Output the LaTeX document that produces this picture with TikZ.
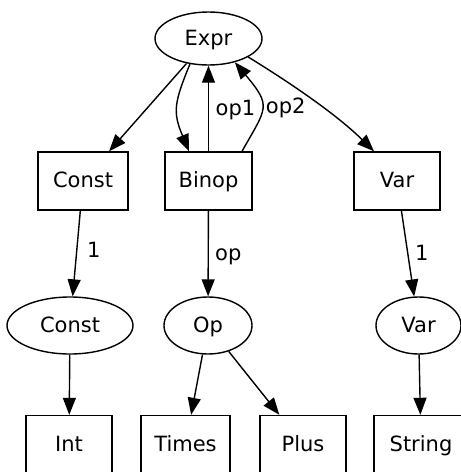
\documentclass[tikz,border=0pt]{standalone}
\usepackage{fontspec}
\setmainfont{DejaVu Sans}
\usetikzlibrary{shapes.geometric,arrows.meta}

\begin{document}
\begin{tikzpicture}[x=1pt,y=-1pt,
  every node/.style={font=\fontsize{21}{25}\selectfont, inner sep=0pt,
                     text height=15.5pt, text depth=2pt},
  oval/.style={draw, ellipse, line width=1.4pt, minimum height=57pt},
  rec/.style={draw, rectangle, line width=1.4pt, minimum height=58pt},
  arr/.style={line width=1.4pt, -{Triangle[length=17pt,width=13pt]}},
  lbl/.style={fill=none}]
\clip (0,0) rectangle (461,472);

% top row
\node[oval, minimum width=107pt, minimum height=53pt] (expr) at (208.5,38.5) {Expr};

% second row: constructors
\node[rec, minimum width=90pt] (constB) at (83,181) {Const};
\node[rec, minimum width=87pt] (binop)  at (208.5,181) {Binop};
\node[rec, minimum width=86pt] (varB)   at (397,181) {Var};

% third row: argument types
\node[oval, minimum width=126pt] (constE) at (70,325.5) {Const};
\node[oval, minimum width=88pt]  (op)     at (208,325.5) {Op};
\node[oval, minimum width=85pt]  (varE)   at (418.5,325.5) {Var};

% bottom row
\node[rec, minimum width=86pt] (int)    at (69,444.5) {Int};
\node[rec, minimum width=89pt] (times)  at (185.5,444.5) {Times};
\node[rec, minimum width=86pt] (plus)   at (303,444.5) {Plus};
\node[rec, minimum width=94pt] (string) at (421,444.5) {String};

% Expr to its constructors
\draw[arr] (expr) -- (constB);
\draw[arr] (expr.234) .. controls (174,103) and (172.6,112) .. ([xshift=-19.5pt]binop.north);
\draw[arr] (expr.335) .. controls (284,79) and (334,112) .. ([xshift=-23pt]varB.north);

% Binop operands back to Expr
\draw[arr] (binop) -- node[lbl, xshift=27pt] {op1} (expr);
\draw[arr] ([xshift=33.5pt]binop.north) .. controls (267,107) and (272,106.5) ..
  node[lbl, pos=0.5, xshift=24pt] {op2} (expr.318);

% constructor arguments
\draw[arr] (constB) -- node[lbl, pos=0.47, xshift=17pt] {1} (constE);
\draw[arr] (binop) -- node[lbl, xshift=20pt] {op} (op);
\draw[arr] (varB) -- node[lbl, xshift=14pt] {1} (varE);

% leaves
\draw[arr] (constE) -- (int);
\draw[arr] (op) -- (times);
\draw[arr] (op) -- (plus);
\draw[arr] (varE) -- (string);
\end{tikzpicture}
\end{document}
